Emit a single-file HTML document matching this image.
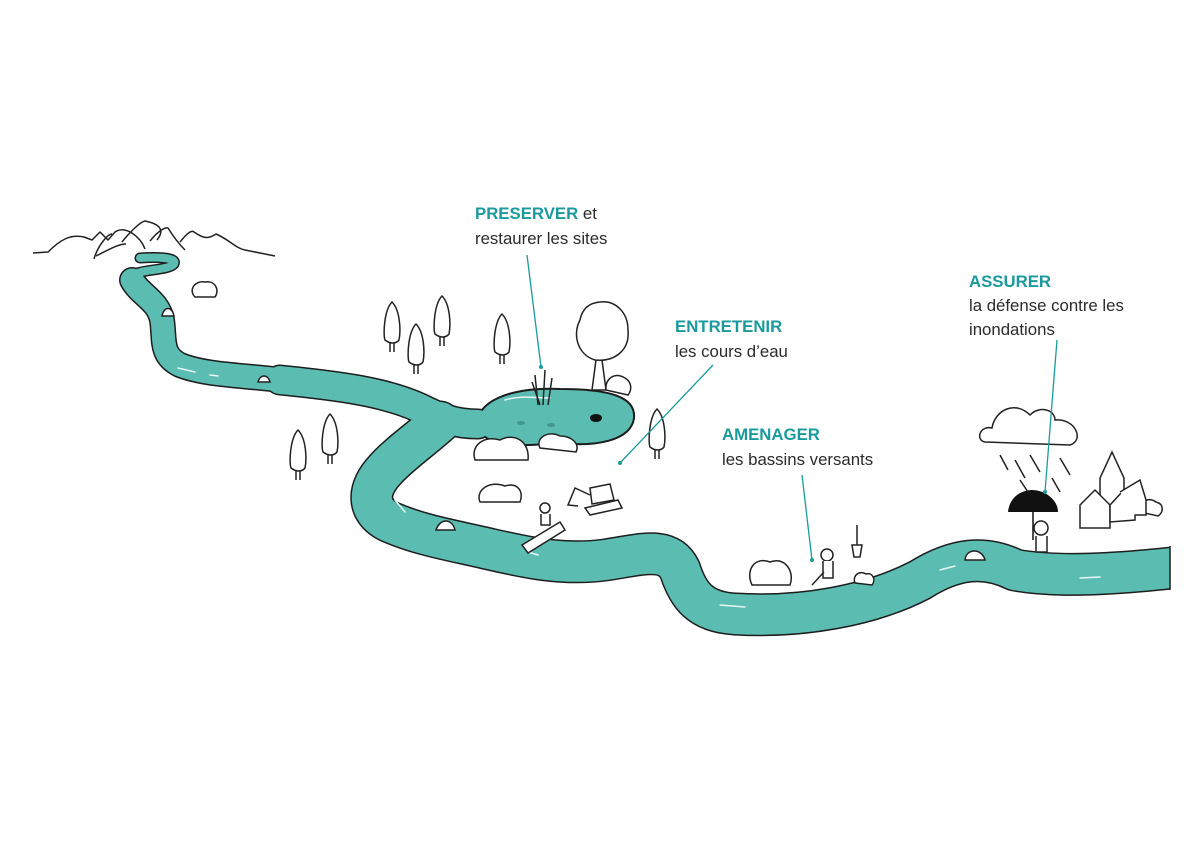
<!DOCTYPE html>
<html><head><meta charset="utf-8"><style>
html,body{margin:0;padding:0;background:#fff;width:1200px;height:848px;overflow:hidden}
svg{display:block}
.t{font-family:"Liberation Sans",sans-serif;font-size:16.8px;fill:#2b2b2b}
.h{font-weight:bold;fill:#1a9a9c}
</style></head><body>
<svg width="1200" height="848" viewBox="0 0 1200 848">
<defs><clipPath id="c"><rect x="0" y="0" width="1170" height="848"/></clipPath></defs>
<g fill="none" stroke="#222" stroke-width="1.5" stroke-linejoin="round">
<!-- mountains -->
<path d="M33,253 L48,252 C60,240 70,234 84,237 L92,240 L100,232 L108,240 L115,232 C125,225 140,236 145,249 M94,259 C98,245 108,234 112,234"/>
<path d="M122,242 C130,232 140,222 145,221 C160,224 165,230 157,240 M150,241 C158,231 165,227 168,228 C173,236 180,245 185,250 M180,242 C188,232 192,230 194,232 C205,240 210,238 216,234 C230,240 235,248 245,250 L275,256"/>
<path d="M126,244 C118,244 108,250 96,256"/>
</g>
<!-- river outlines -->
<g fill="none" stroke="#1d1d1d" stroke-linecap="round" stroke-linejoin="round">
<path d="M140,258 C155,257 178,257 174,264 C168,272 128,268 132,280" stroke-width="11"/>
<path d="M132,280 C140,295 158,300 162,320 C165,340 160,355 180,365 C205,375 240,375 280,380" stroke-width="26"/>
<path d="M280,380 C340,386 385,392 420,408 C440,418 455,424 478,424" stroke-width="31"/>
<path clip-path="url(#c)" d="M440,422 C420,440 398,455 385,470 C368,488 365,510 390,522 C420,535 450,540 485,548 C520,556 560,566 605,560 C640,555 668,545 680,570 C688,595 700,612 735,614 C800,618 870,606 920,580 C955,558 985,555 1015,570 C1060,578 1120,574 1190,566" stroke-width="43"/>
<path d="M478,425 C478,398 520,388 560,390 C610,390 635,398 633,418 C630,440 595,446 560,442 C530,444 485,450 478,425 Z" stroke-width="4"/>
</g>
<g fill="none" stroke="#5bbcb2" stroke-linecap="round" stroke-linejoin="round">
<path d="M140,258 C155,257 178,257 174,264 C168,272 128,268 132,280" stroke-width="8"/>
<path d="M132,280 C140,295 158,300 162,320 C165,340 160,355 180,365 C205,375 240,375 280,380" stroke-width="23"/>
<path d="M280,380 C340,386 385,392 420,408 C440,418 455,424 478,424" stroke-width="28"/>
<path clip-path="url(#c)" d="M440,422 C420,440 398,455 385,470 C368,488 365,510 390,522 C420,535 450,540 485,548 C520,556 560,566 605,560 C640,555 668,545 680,570 C688,595 700,612 735,614 C800,618 870,606 920,580 C955,558 985,555 1015,570 C1060,578 1120,574 1190,566" stroke-width="40"/>
</g>
<path d="M478,425 C478,398 520,388 560,390 C610,390 635,398 633,418 C630,440 595,446 560,442 C530,444 485,450 478,425 Z" fill="#5bbcb2"/>
<path d="M1170,546 L1170,590" stroke="#1d1d1d" stroke-width="1.5"/>
<!-- rocks -->
<g fill="#fff" stroke="#222" stroke-width="1.5">
<path d="M162,316 C164,306 172,306 174,316 Z"/>
<path d="M258,382 C260,374 268,374 270,382 Z"/>
<path d="M436,530 C440,518 452,518 455,530 Z"/>
<path d="M965,560 C966,548 982,548 985,560 Z"/>
</g>
<!-- water highlights -->
<g stroke="#e8f7f5" stroke-width="1.5" fill="none" stroke-linecap="round">
<path d="M178,368 L195,372 M210,375 L218,376 M395,500 L405,512 M528,552 L538,555 M720,605 L745,607 M1080,578 L1100,577 M940,570 L955,566 M505,400 C520,395 535,398 550,398"/>
</g>
<!-- trees -->
<g fill="#fff" stroke="#222" stroke-width="1.5">
<g id="p"><path d="M390,352 L390,340 M394,352 L394,340"/><path d="M392,302 C384,310 383,335 385,340 C390,344 396,344 399,340 C401,330 400,310 392,302 Z"/></g>
<use href="#p" transform="translate(24,22)"/>
<use href="#p" transform="translate(50,-6)"/>
<use href="#p" transform="translate(110,12)"/>
<use href="#p" transform="translate(-94,128)"/>
<use href="#p" transform="translate(-62,112)"/>
<use href="#p" transform="translate(265,107)"/>
<path d="M596,360 L592,390 L606,390 L602,360"/>
<path d="M580,320 C572,335 578,355 595,360 C615,362 630,350 628,330 C628,312 615,300 600,302 C588,303 582,310 580,320 Z"/>
<path d="M195,297 C188,290 195,280 205,282 C215,280 220,290 215,297 Z"/>
<path d="M606,390 C605,378 615,372 625,378 C632,382 632,390 628,395 Z"/>
<path d="M475,460 C470,445 485,435 500,440 C515,432 530,442 528,460 Z"/>
<path d="M540,448 C535,438 548,430 560,436 C572,436 580,444 576,452 Z"/>
<path d="M480,502 C475,490 490,480 505,486 C518,482 524,492 520,502 Z"/>
<path d="M752,585 C745,570 755,556 770,562 C785,556 795,572 790,585 Z"/>
<path d="M855,583 C852,575 860,570 866,574 C873,572 876,580 872,585 Z"/>
<path d="M1140,512 C1138,502 1148,496 1156,502 C1164,504 1164,512 1158,516 Z"/>
<path d="M985,442 C975,440 980,425 992,428 C995,410 1015,400 1030,415 C1040,405 1055,410 1055,420 C1075,418 1085,440 1070,445 Z"/>
<path d="M1100,510 L1100,478 L1112,452 L1124,478 L1124,500"/>
<path d="M1080,505 L1095,490 L1110,505 L1110,528 L1080,528 Z"/>
<path d="M1110,505 L1122,492 L1135,505 L1135,520 L1110,522 Z"/>
<path d="M1120,492 L1140,480 L1146,500 L1146,515 L1135,515"/>
<path d="M590,488 L610,484 L614,500 L592,504 Z"/>
<path d="M585,508 L618,500 L622,508 L590,515 Z"/>
<path d="M590,495 L575,488 L568,505 L578,506"/>
<path d="M522,545 L560,522 L565,530 L528,553 Z"/>
<circle cx="545" cy="508" r="5"/><path d="M541,514 L541,525 L550,525 L550,514"/>
<circle cx="827" cy="555" r="6"/><path d="M823,561 L823,578 L833,578 L833,561 M824,572 L812,585"/>
<circle cx="1041" cy="528" r="7"/><path d="M1036,536 L1036,552 L1047,552 L1047,536"/>
<path d="M852,545 L862,545 L860,557 L854,557 Z M857,545 L857,525"/>
</g>
<path d="M1008,512 C1010,494 1025,490 1032,490 C1045,490 1058,500 1058,512 Z" fill="#111"/>
<path d="M1033,510 L1033,540" stroke="#111" stroke-width="1.5"/>
<g stroke="#222" stroke-width="1.5">
<path d="M538,405 L535,375 M543,405 L545,370 M548,405 L552,378 M540,405 L532,382"/>
<path d="M1000,455 L1008,470 M1015,460 L1025,478 M1030,455 L1040,472 M1060,458 L1070,475 M1020,480 L1028,492 M1052,478 L1060,492"/>
</g>
<ellipse cx="596" cy="418" rx="6" ry="4" fill="#111"/>
<ellipse cx="521" cy="423" rx="4" ry="2" fill="#3f9890"/><ellipse cx="551" cy="425" rx="4" ry="2" fill="#3f9890"/>
<g stroke="#1a9a9c" stroke-width="1.3">
<line x1="527" y1="255" x2="541" y2="367"/>
<line x1="713" y1="365" x2="620" y2="463"/>
<line x1="802" y1="475" x2="812" y2="560"/>
<line x1="1057" y1="340" x2="1045" y2="492"/>
</g>
<g fill="#1a9a9c"><circle cx="541" cy="367" r="2"/><circle cx="620" cy="463" r="2"/><circle cx="812" cy="560" r="2"/><circle cx="1045" cy="492" r="2"/></g>
<text class="t" x="475" y="219"><tspan class="h">PRESERVER</tspan> et</text>
<text class="t" x="475" y="244">restaurer les sites</text>
<text class="t" x="675" y="332"><tspan class="h">ENTRETENIR</tspan></text>
<text class="t" x="675" y="357">les cours d’eau</text>
<text class="t" x="722" y="440"><tspan class="h">AMENAGER</tspan></text>
<text class="t" x="722" y="465">les bassins versants</text>
<text class="t" x="969" y="287"><tspan class="h">ASSURER</tspan></text>
<text class="t" x="969" y="311">la défense contre les</text>
<text class="t" x="969" y="335">inondations</text>
</svg>
</body></html>
